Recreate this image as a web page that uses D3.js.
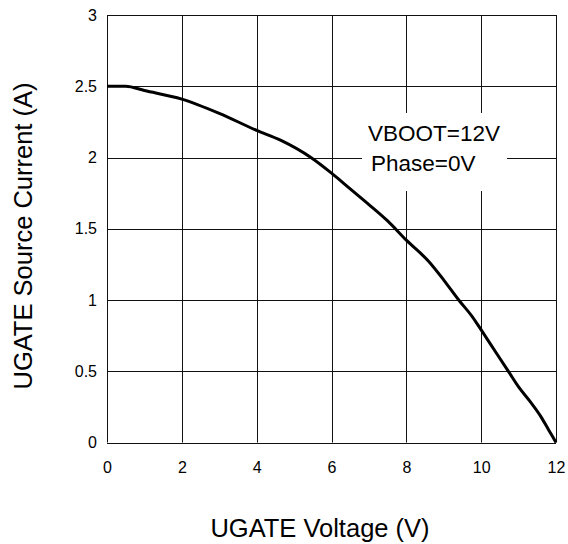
<!DOCTYPE html>
<html><head><meta charset="utf-8">
<script src="https://cdn.jsdelivr.net/npm/d3@7"></script>
<style>body{margin:0;background:#fff}svg{display:block}text{font-family:"Liberation Sans",Arial,sans-serif;fill:#000}</style>
</head><body><svg id="c" width="568" height="544"></svg>
<script>
const voltage = [0, 0.5, 1, 2, 3, 4, 4.65, 5.45, 6, 6.5, 7, 7.5, 8, 8.6, 9, 9.4, 9.77, 10, 10.4, 10.75, 11, 11.3, 11.6, 11.8, 12];
const current = [2.5, 2.5, 2.47, 2.41, 2.31, 2.19, 2.12, 2.0, 1.89, 1.78, 1.67, 1.555, 1.42, 1.27, 1.14, 1.0, 0.88, 0.79, 0.63, 0.49, 0.39, 0.29, 0.18, 0.09, 0];
const xTicks = [0, 2, 4, 6, 8, 10, 12];
const yTicks = [0, 0.5, 1, 1.5, 2, 2.5, 3];
const yTickLabels = ["0", "0.5", "1", "1.5", "2", "2.5", "3"];
const annotation = ["VBOOT=12V", "Phase=0V"];
const xTitle = "UGATE Voltage (V)";
const yTitle = "UGATE Source Current (A)";

const svg = d3.select("#c");
const x = d3.scaleLinear().domain([0, 12]).range([107, 556]);
const y = d3.scaleLinear().domain([0, 3]).range([442.5, 15]);
const r = v => Math.round(v) + 0.5;

// grid
svg.append("g").selectAll("line").data(xTicks).join("line")
  .attr("x1", d => r(x(d))).attr("x2", d => r(x(d)))
  .attr("y1", y(3)).attr("y2", y(0))
  .attr("stroke", "#111").attr("stroke-width", 1);
svg.append("g").selectAll("line").data(yTicks).join("line")
  .attr("y1", d => r(y(d))).attr("y2", d => r(y(d)))
  .attr("x1", x(0)).attr("x2", x(12))
  .attr("stroke", "#111").attr("stroke-width", 1);

// annotation background box
svg.append("rect").attr("x", 362).attr("y", 113).attr("width", 145).attr("height", 78).attr("fill", "#fff");
svg.append("g").selectAll("text").data(annotation).join("text")
  .attr("x", (d, i) => i === 0 ? 368 : 371)
  .attr("y", (d, i) => 141 + i * 30)
  .attr("font-size", 22.5)
  .text(d => d);

// axes
const xAxis = d3.axisBottom(x).tickValues(xTicks).tickSize(0).tickPadding(19).tickFormat(d3.format("d"));
const gx = svg.append("g").attr("transform", `translate(0,${y(0)})`).call(xAxis);
gx.select(".domain").remove();
gx.selectAll("text").attr("font-size", 16).attr("font-family", '"Liberation Sans",Arial,sans-serif');
const yAxis = d3.axisLeft(y).tickValues(yTicks).tickSize(0).tickPadding(10).tickFormat((d, i) => yTickLabels[i]);
const gy = svg.append("g").attr("transform", `translate(${x(0)},0)`).call(yAxis);
gy.select(".domain").remove();
gy.selectAll("text").attr("font-size", 16).attr("font-family", '"Liberation Sans",Arial,sans-serif');

// curve
const pts = voltage.map((v, i) => [v, current[i]]);
svg.append("path").datum(pts)
  .attr("d", d3.line().x(d => x(d[0])).y(d => y(d[1])).curve(d3.curveMonotoneX))
  .attr("fill", "none").attr("stroke", "#000").attr("stroke-width", 3);

// titles
svg.append("text").attr("x", 320).attr("y", 537).attr("text-anchor", "middle").attr("font-size", 25.5).text(xTitle);
svg.append("text").attr("transform", "translate(32,236) rotate(-90)").attr("text-anchor", "middle").attr("font-size", 25.5).text(yTitle);
</script></body></html>
